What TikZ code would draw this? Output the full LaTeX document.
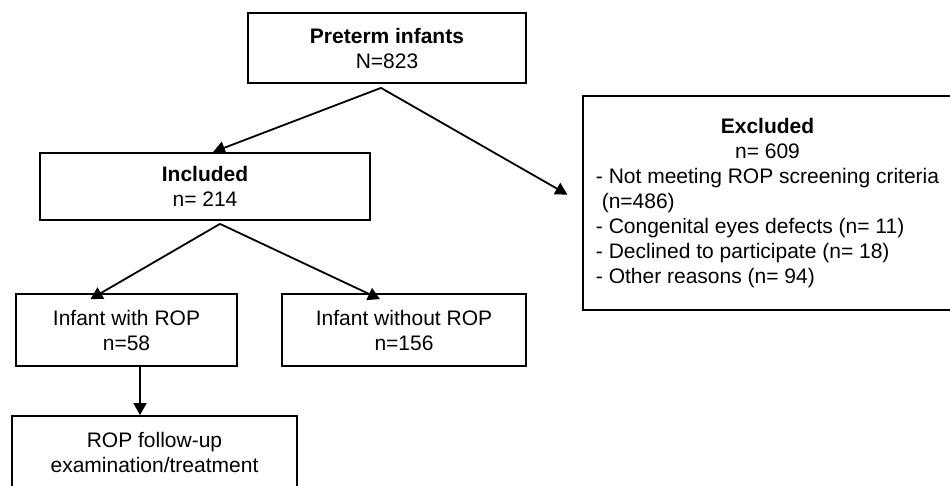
\documentclass[tikz,border=0pt]{standalone}
\usepackage{fontspec}
\setmainfont{Liberation Sans}
\usetikzlibrary{arrows.meta}

\begin{document}
\begin{tikzpicture}[x=1pt, y=-1pt,
        box/.style = {draw, rectangle, line width = 1.8pt, align = center, inner sep = 0pt,
                      font = \fontsize{21}{25}\selectfont},
        link/.style = {-{Triangle[width = 13pt, length = 12pt]}, line width = 1.8pt}]
        \clip (0, 0) rectangle (950, 485);

        % Nodes
        \node [box, minimum width = 278pt, minimum height = 70pt] (preterm) at (387, 48) {\textbf{Preterm infants}\\N=823};
        \node [box, minimum width = 330pt, minimum height = 67pt] (incl) at (205, 186.5) {\textbf{Included}\\n= 214};
        \node [box, minimum width = 369pt, minimum height = 214pt] (excl) at (767.5, 203) {%
            \begin{tabular}{@{}l@{}}
            \multicolumn{1}{@{}c@{}}{\textbf{Excluded}}\\
            \multicolumn{1}{@{}c@{}}{n= 609}\\
            - Not meeting ROP screening criteria\\
            \ (n=486)\\
            - Congenital eyes defects (n= 11)\\
            - Declined to participate (n= 18)\\
            - Other reasons (n= 94)
            \end{tabular}};
        \node [box, minimum width = 221pt, minimum height = 72pt] (withrop) at (126.5, 330) {Infant with ROP\\n=58};
        \node [box, minimum width = 244pt, minimum height = 72pt] (withoutrop) at (404, 330) {Infant without ROP\\n=156};
        \node [box, minimum width = 285pt, minimum height = 72pt] (followup) at (154.5, 452) {ROP follow-up\\examination/treatment};

        % Draw the links
        \draw [link] ([xshift = -6pt, yshift = -4pt]preterm.south) -- ([xshift = 8pt]incl.north);
        \draw [link, shorten > = 17pt] ([xshift = -6pt, yshift = -4pt]preterm.south) -- (excl.west);
        \draw [link] ([xshift = 15pt, yshift = -3pt]incl.south) -- ([xshift = -36pt, yshift = -6pt]withrop.north);
        \draw [link] ([xshift = 15pt, yshift = -3pt]incl.south) -- ([xshift = -24pt, yshift = -6pt]withoutrop.north);
        \draw [link] ([xshift = 13.5pt]withrop.south) -- ([xshift = 13.5pt]withrop.south |- followup.north);

\end{tikzpicture}
\end{document}
